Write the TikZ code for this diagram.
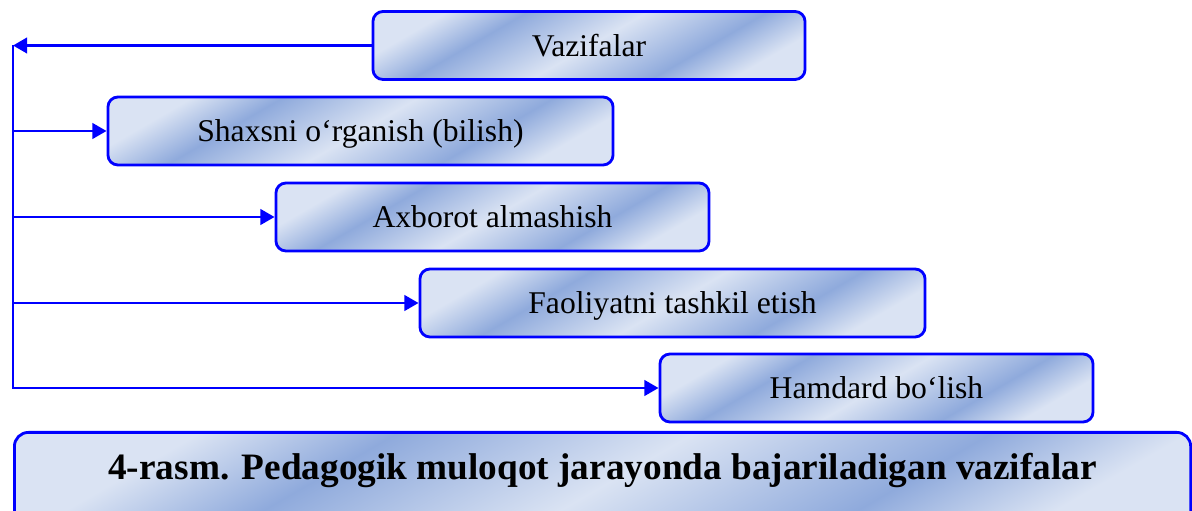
\documentclass[tikz,border=0pt]{standalone}
\usepackage{fontspec}
\setmainfont{Liberation Serif}
\usetikzlibrary{positioning, arrows.meta}

\definecolor{shadelight}{RGB}{218,227,243}
\definecolor{shadedark}{RGB}{143,170,220}
\pgfdeclarehorizontalshading{boxshade}{100bp}{color(0bp)=(shadelight); color(25bp)=(shadelight); color(35bp)=(shadedark); color(50bp)=(shadelight); color(65bp)=(shadedark); color(75bp)=(shadelight); color(100bp)=(shadelight)}

\tikzset{
    task/.style={draw=blue, line width=2pt, rounded corners=0.25cm, shading=boxshade, shading angle=-60,
        minimum height=1.7cm, inner sep=0pt, text height=16.2pt, text depth=0.9pt,
        font=\fontsize{22.5}{27}\selectfont},
    link/.style={draw=blue, line width=1.8pt},
    tip/.style={-{Triangle[length=10pt, width=11pt]}}
}

\begin{document}
\begin{tikzpicture}[x=0.025cm, y=-0.025cm]
        \useasboundingbox (0,0) rectangle (1192,511);
        \node [task, minimum width=10.8cm] (vaz) at (589,45.5) {Vazifalar};
        \node [task, minimum width=12.625cm] (shaxs) at (360.5,131) {Shaxsni o‘rganish (bilish)};
        \node [task, minimum width=10.825cm] (axb) at (492.5,217) {Axborot almashish};
        \node [task, minimum width=12.625cm] (faol) at (672.5,303) {Faoliyatni tashkil etish};
        \node [task, minimum width=10.825cm] (hamd) at (876.5,388) {Hamdard bo‘lish};
        \node [task, rounded corners=0.35cm, anchor=north west, minimum width=29.4cm, minimum height=0pt,
            text height=1.175cm, text depth=1.5cm, font=\bfseries\fontsize{26.5}{31}\selectfont]
            (title) at (13,431) {4-rasm. Pedagogik muloqot jarayonda bajariladigan vazifalar};
        \coordinate (top) at (13,45.5);
        \draw [link, tip] (vaz.west) -- (top);
        \draw [link, tip] (top) -- (top |- hamd.west) -- (hamd.west);
        \foreach \b in {shaxs, axb, faol}
            \draw [link, tip] (\b.west -| top) -- (\b.west);
    \end{tikzpicture}
\end{document}
